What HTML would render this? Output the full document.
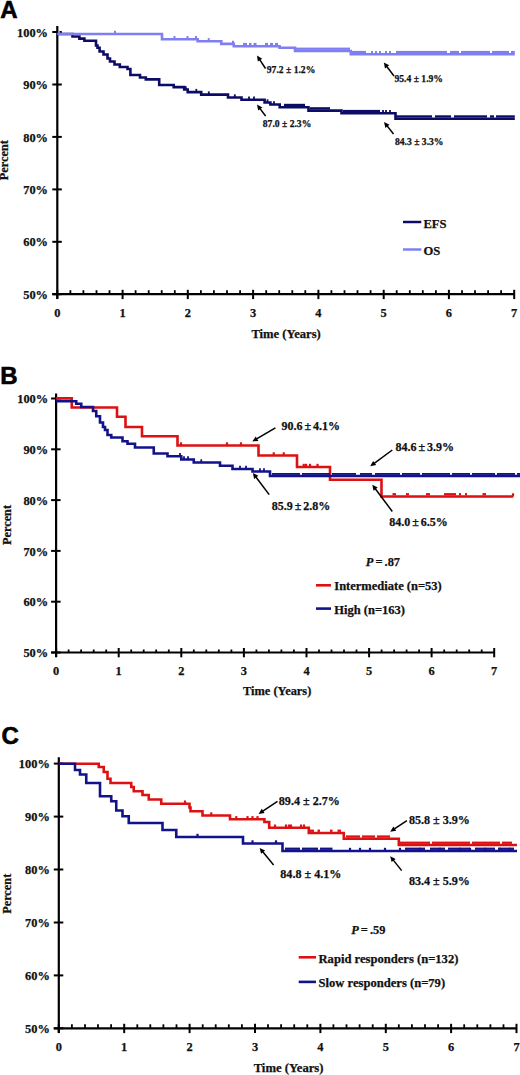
<!DOCTYPE html>
<html><head><meta charset="utf-8"><style>
html,body{margin:0;padding:0;background:#fff;}
body{width:520px;height:1075px;overflow:hidden;}
svg{display:block;}
.t{font-family:"Liberation Serif",serif;font-weight:bold;font-size:12.4px;fill:#111;stroke:#111;stroke-width:0.25px;}
.big{font-family:"Liberation Sans",sans-serif;font-weight:bold;font-size:24px;fill:#000;stroke:#000;stroke-width:0.6px;}
</style></head><body>
<svg width="520" height="1075" viewBox="0 0 520 1075">
<text x="0.2" y="17.5" class="big">A</text>
<line x1="57.3" y1="26.0" x2="57.3" y2="298.8" stroke="#000" stroke-width="2.2"/>
<line x1="52.3" y1="294.2" x2="514.2" y2="294.2" stroke="#000" stroke-width="2.2"/>
<line x1="52.3" y1="32.0" x2="61.8" y2="32.0" stroke="#000" stroke-width="2"/>
<text x="48.0" y="36.6" text-anchor="end" class="t">100%</text>
<line x1="52.3" y1="84.5" x2="61.8" y2="84.5" stroke="#000" stroke-width="2"/>
<text x="48.0" y="89.0" text-anchor="end" class="t">90%</text>
<line x1="52.3" y1="136.9" x2="61.8" y2="136.9" stroke="#000" stroke-width="2"/>
<text x="48.0" y="141.5" text-anchor="end" class="t">80%</text>
<line x1="52.3" y1="189.4" x2="61.8" y2="189.4" stroke="#000" stroke-width="2"/>
<text x="48.0" y="194.0" text-anchor="end" class="t">70%</text>
<line x1="52.3" y1="241.8" x2="61.8" y2="241.8" stroke="#000" stroke-width="2"/>
<text x="48.0" y="246.4" text-anchor="end" class="t">60%</text>
<line x1="52.3" y1="294.2" x2="61.8" y2="294.2" stroke="#000" stroke-width="2"/>
<text x="48.0" y="298.9" text-anchor="end" class="t">50%</text>
<line x1="57.3" y1="289.8" x2="57.3" y2="299.1" stroke="#000" stroke-width="2"/>
<text x="57.3" y="317.2" text-anchor="middle" class="t">0</text>
<line x1="70.4" y1="290.2" x2="70.4" y2="294.2" stroke="#000" stroke-width="1.8"/>
<line x1="83.4" y1="290.2" x2="83.4" y2="294.2" stroke="#000" stroke-width="1.8"/>
<line x1="96.5" y1="290.2" x2="96.5" y2="294.2" stroke="#000" stroke-width="1.8"/>
<line x1="109.5" y1="290.2" x2="109.5" y2="294.2" stroke="#000" stroke-width="1.8"/>
<line x1="122.6" y1="289.8" x2="122.6" y2="299.1" stroke="#000" stroke-width="2"/>
<text x="122.6" y="317.2" text-anchor="middle" class="t">1</text>
<line x1="135.6" y1="290.2" x2="135.6" y2="294.2" stroke="#000" stroke-width="1.8"/>
<line x1="148.7" y1="290.2" x2="148.7" y2="294.2" stroke="#000" stroke-width="1.8"/>
<line x1="161.7" y1="290.2" x2="161.7" y2="294.2" stroke="#000" stroke-width="1.8"/>
<line x1="174.8" y1="290.2" x2="174.8" y2="294.2" stroke="#000" stroke-width="1.8"/>
<line x1="187.8" y1="289.8" x2="187.8" y2="299.1" stroke="#000" stroke-width="2"/>
<text x="187.8" y="317.2" text-anchor="middle" class="t">2</text>
<line x1="200.9" y1="290.2" x2="200.9" y2="294.2" stroke="#000" stroke-width="1.8"/>
<line x1="213.9" y1="290.2" x2="213.9" y2="294.2" stroke="#000" stroke-width="1.8"/>
<line x1="227.0" y1="290.2" x2="227.0" y2="294.2" stroke="#000" stroke-width="1.8"/>
<line x1="240.1" y1="290.2" x2="240.1" y2="294.2" stroke="#000" stroke-width="1.8"/>
<line x1="253.1" y1="289.8" x2="253.1" y2="299.1" stroke="#000" stroke-width="2"/>
<text x="253.1" y="317.2" text-anchor="middle" class="t">3</text>
<line x1="266.2" y1="290.2" x2="266.2" y2="294.2" stroke="#000" stroke-width="1.8"/>
<line x1="279.2" y1="290.2" x2="279.2" y2="294.2" stroke="#000" stroke-width="1.8"/>
<line x1="292.3" y1="290.2" x2="292.3" y2="294.2" stroke="#000" stroke-width="1.8"/>
<line x1="305.3" y1="290.2" x2="305.3" y2="294.2" stroke="#000" stroke-width="1.8"/>
<line x1="318.4" y1="289.8" x2="318.4" y2="299.1" stroke="#000" stroke-width="2"/>
<text x="318.4" y="317.2" text-anchor="middle" class="t">4</text>
<line x1="331.4" y1="290.2" x2="331.4" y2="294.2" stroke="#000" stroke-width="1.8"/>
<line x1="344.5" y1="290.2" x2="344.5" y2="294.2" stroke="#000" stroke-width="1.8"/>
<line x1="357.5" y1="290.2" x2="357.5" y2="294.2" stroke="#000" stroke-width="1.8"/>
<line x1="370.6" y1="290.2" x2="370.6" y2="294.2" stroke="#000" stroke-width="1.8"/>
<line x1="383.7" y1="289.8" x2="383.7" y2="299.1" stroke="#000" stroke-width="2"/>
<text x="383.7" y="317.2" text-anchor="middle" class="t">5</text>
<line x1="396.7" y1="290.2" x2="396.7" y2="294.2" stroke="#000" stroke-width="1.8"/>
<line x1="409.8" y1="290.2" x2="409.8" y2="294.2" stroke="#000" stroke-width="1.8"/>
<line x1="422.8" y1="290.2" x2="422.8" y2="294.2" stroke="#000" stroke-width="1.8"/>
<line x1="435.9" y1="290.2" x2="435.9" y2="294.2" stroke="#000" stroke-width="1.8"/>
<line x1="448.9" y1="289.8" x2="448.9" y2="299.1" stroke="#000" stroke-width="2"/>
<text x="448.9" y="317.2" text-anchor="middle" class="t">6</text>
<line x1="462.0" y1="290.2" x2="462.0" y2="294.2" stroke="#000" stroke-width="1.8"/>
<line x1="475.0" y1="290.2" x2="475.0" y2="294.2" stroke="#000" stroke-width="1.8"/>
<line x1="488.1" y1="290.2" x2="488.1" y2="294.2" stroke="#000" stroke-width="1.8"/>
<line x1="501.1" y1="290.2" x2="501.1" y2="294.2" stroke="#000" stroke-width="1.8"/>
<line x1="514.2" y1="289.8" x2="514.2" y2="299.1" stroke="#000" stroke-width="2"/>
<text x="514.2" y="317.2" text-anchor="middle" class="t">7</text>
<text x="286.1" y="337.8" text-anchor="middle" class="t" style="font-size:12.6px">Time (Years)</text>
<text transform="translate(8.1,160.2) rotate(-90)" text-anchor="middle" class="t" style="font-size:12.3px">Percent</text>
<path d="M57.3,34H72.5V36.5H79.4V38.6H84.4V40.8H96V45.5H97.5V47.7H99.6V51.5H103.5V54.5H107.5V58.5H110V61.5H114.5V64.5H119.8V67H127.5V69H130.4V75H140V77.5H145.8V79.4H159.2V85H173.7V87.1H184.2V89.5H187.7V92.1H201.2V94.6H228V97.5H241.5V99.8H264.6V102.5H270.4V104.5H279.7V107.2H308.5V110.6H341.5V113.3H395.5V118.7H514.8" fill="none" stroke="#0c0c66" stroke-width="2.6" stroke-linejoin="miter" stroke-linecap="butt"/>
<path d="M57.3,34H162V39.2H197.7V41.3H221.3V43.9H233.8V46.3H279.6V47.8H295V51H350.8V54.3H514.8" fill="none" stroke="#7f7ff2" stroke-width="2.6" stroke-linejoin="miter" stroke-linecap="butt"/>
<line x1="59" y1="34" x2="59" y2="30.8" stroke="#7f7ff2" stroke-width="2"/>
<line x1="115" y1="34" x2="115" y2="30.8" stroke="#7f7ff2" stroke-width="2"/>
<line x1="174.5" y1="39.2" x2="174.5" y2="36.0" stroke="#7f7ff2" stroke-width="2"/>
<line x1="187.5" y1="39.2" x2="187.5" y2="36.0" stroke="#7f7ff2" stroke-width="2"/>
<line x1="196" y1="39.2" x2="196" y2="36.0" stroke="#7f7ff2" stroke-width="2"/>
<line x1="208.7" y1="41.3" x2="208.7" y2="38.1" stroke="#7f7ff2" stroke-width="2"/>
<line x1="233" y1="43.9" x2="233" y2="40.7" stroke="#7f7ff2" stroke-width="2"/>
<line x1="372" y1="54.3" x2="372" y2="51.1" stroke="#7f7ff2" stroke-width="2"/>
<line x1="376" y1="54.3" x2="376" y2="51.1" stroke="#7f7ff2" stroke-width="2"/>
<line x1="380" y1="54.3" x2="380" y2="51.1" stroke="#7f7ff2" stroke-width="2"/>
<line x1="386" y1="54.3" x2="386" y2="51.1" stroke="#7f7ff2" stroke-width="2"/>
<line x1="390" y1="54.3" x2="390" y2="51.1" stroke="#7f7ff2" stroke-width="2"/>
<rect x="243" y="42.9" width="4.0" height="2.3" fill="#7f7ff2"/>
<rect x="249" y="42.9" width="2.5" height="2.3" fill="#7f7ff2"/>
<rect x="253.5" y="42.9" width="3.0" height="2.3" fill="#7f7ff2"/>
<rect x="265" y="42.9" width="3.0" height="2.3" fill="#7f7ff2"/>
<rect x="270" y="42.9" width="3.0" height="2.3" fill="#7f7ff2"/>
<rect x="275" y="42.9" width="3.0" height="2.3" fill="#7f7ff2"/>
<rect x="296" y="47.6" width="54.0" height="2.3" fill="#7f7ff2"/>
<rect x="351" y="50.9" width="15.0" height="2.3" fill="#7f7ff2"/>
<rect x="396" y="50.9" width="51.0" height="2.3" fill="#7f7ff2"/>
<rect x="450" y="50.9" width="9.0" height="2.3" fill="#7f7ff2"/>
<rect x="461" y="50.9" width="29.0" height="2.3" fill="#7f7ff2"/>
<rect x="492" y="50.9" width="17.0" height="2.3" fill="#7f7ff2"/>
<rect x="511" y="50.9" width="3.8" height="2.3" fill="#7f7ff2"/>
<line x1="185.8" y1="89.5" x2="185.8" y2="86.3" stroke="#0c0c66" stroke-width="1.8"/>
<line x1="196.3" y1="92.1" x2="196.3" y2="88.9" stroke="#0c0c66" stroke-width="1.8"/>
<line x1="208.8" y1="94.6" x2="208.8" y2="91.4" stroke="#0c0c66" stroke-width="1.8"/>
<line x1="234.8" y1="97.5" x2="234.8" y2="94.3" stroke="#0c0c66" stroke-width="1.8"/>
<line x1="249" y1="99.8" x2="249" y2="96.6" stroke="#0c0c66" stroke-width="1.8"/>
<line x1="254" y1="99.8" x2="254" y2="96.6" stroke="#0c0c66" stroke-width="1.8"/>
<line x1="267.5" y1="102.5" x2="267.5" y2="99.3" stroke="#0c0c66" stroke-width="1.8"/>
<line x1="274" y1="104.5" x2="274" y2="101.3" stroke="#0c0c66" stroke-width="1.8"/>
<line x1="383" y1="113.3" x2="383" y2="110.1" stroke="#0c0c66" stroke-width="1.8"/>
<line x1="386" y1="113.3" x2="386" y2="110.1" stroke="#0c0c66" stroke-width="1.8"/>
<line x1="390" y1="113.3" x2="390" y2="110.1" stroke="#0c0c66" stroke-width="1.8"/>
<rect x="284" y="103.8" width="21.0" height="2.3" fill="#0c0c66"/>
<rect x="310" y="107.2" width="20.0" height="2.3" fill="#0c0c66"/>
<rect x="343" y="109.9" width="37.0" height="2.3" fill="#0c0c66"/>
<rect x="396" y="115.3" width="36.0" height="2.3" fill="#0c0c66"/>
<rect x="435" y="115.3" width="16.0" height="2.3" fill="#0c0c66"/>
<rect x="454" y="115.3" width="33.0" height="2.3" fill="#0c0c66"/>
<rect x="490" y="115.3" width="4.0" height="2.3" fill="#0c0c66"/>
<rect x="496" y="115.3" width="18.8" height="2.3" fill="#0c0c66"/>
<line x1="265.5" y1="68.5" x2="259.7" y2="59.7" stroke="#000" stroke-width="1.5"/>
<path d="M257,55.5L262.2,58.7L257.8,61.5Z" fill="#000"/>
<text x="266.8" y="72.8" class="t" style="font-size:9.6px">97.2 ± 1.2%</text>
<line x1="394" y1="76" x2="386.8" y2="66.5" stroke="#000" stroke-width="1.5"/>
<path d="M383.8,62.5L389.2,65.3L385.0,68.5Z" fill="#000"/>
<text x="394.5" y="82" class="t" style="font-size:9.6px">95.4 ± 1.9%</text>
<line x1="265.6" y1="116" x2="260.0" y2="108.6" stroke="#000" stroke-width="1.5"/>
<path d="M257,104.6L262.4,107.4L258.2,110.6Z" fill="#000"/>
<text x="262.8" y="126.6" class="t" style="font-size:9.6px">87.0 ± 2.3%</text>
<line x1="393.5" y1="134" x2="387.1" y2="125.9" stroke="#000" stroke-width="1.5"/>
<path d="M384,122L389.5,124.7L385.4,127.9Z" fill="#000"/>
<text x="395" y="145" class="t" style="font-size:9.6px">84.3 ± 3.3%</text>
<line x1="403" y1="222" x2="421.3" y2="222" stroke="#0c0c66" stroke-width="2.5"/>
<text x="423.4" y="227.6" class="t" style="font-size:12.6px">EFS</text>
<line x1="403" y1="249.5" x2="421.3" y2="249.5" stroke="#7f7ff2" stroke-width="2.5"/>
<text x="423.4" y="254.8" class="t" style="font-size:12.6px">OS</text>
<text x="0.3" y="384.3" class="big">B</text>
<line x1="56.1" y1="393.5" x2="56.1" y2="657.0" stroke="#000" stroke-width="2.2"/>
<line x1="51.1" y1="652.5" x2="494.2" y2="652.5" stroke="#000" stroke-width="2.2"/>
<line x1="51.1" y1="398.5" x2="60.6" y2="398.5" stroke="#000" stroke-width="2"/>
<text x="48.2" y="403.1" text-anchor="end" class="t">100%</text>
<line x1="51.1" y1="449.3" x2="60.6" y2="449.3" stroke="#000" stroke-width="2"/>
<text x="48.2" y="453.9" text-anchor="end" class="t">90%</text>
<line x1="51.1" y1="500.1" x2="60.6" y2="500.1" stroke="#000" stroke-width="2"/>
<text x="48.2" y="504.7" text-anchor="end" class="t">80%</text>
<line x1="51.1" y1="550.9" x2="60.6" y2="550.9" stroke="#000" stroke-width="2"/>
<text x="48.2" y="555.5" text-anchor="end" class="t">70%</text>
<line x1="51.1" y1="601.7" x2="60.6" y2="601.7" stroke="#000" stroke-width="2"/>
<text x="48.2" y="606.3" text-anchor="end" class="t">60%</text>
<line x1="51.1" y1="652.5" x2="60.6" y2="652.5" stroke="#000" stroke-width="2"/>
<text x="48.2" y="657.1" text-anchor="end" class="t">50%</text>
<line x1="56.1" y1="648.0" x2="56.1" y2="657.3" stroke="#000" stroke-width="2"/>
<text x="56.1" y="674.5" text-anchor="middle" class="t">0</text>
<line x1="68.6" y1="649.5" x2="68.6" y2="652.5" stroke="#000" stroke-width="1.8"/>
<line x1="81.1" y1="649.5" x2="81.1" y2="652.5" stroke="#000" stroke-width="1.8"/>
<line x1="93.7" y1="649.5" x2="93.7" y2="652.5" stroke="#000" stroke-width="1.8"/>
<line x1="106.2" y1="649.5" x2="106.2" y2="652.5" stroke="#000" stroke-width="1.8"/>
<line x1="118.7" y1="648.0" x2="118.7" y2="657.3" stroke="#000" stroke-width="2"/>
<text x="118.7" y="674.5" text-anchor="middle" class="t">1</text>
<line x1="131.2" y1="649.5" x2="131.2" y2="652.5" stroke="#000" stroke-width="1.8"/>
<line x1="143.7" y1="649.5" x2="143.7" y2="652.5" stroke="#000" stroke-width="1.8"/>
<line x1="156.2" y1="649.5" x2="156.2" y2="652.5" stroke="#000" stroke-width="1.8"/>
<line x1="168.8" y1="649.5" x2="168.8" y2="652.5" stroke="#000" stroke-width="1.8"/>
<line x1="181.3" y1="648.0" x2="181.3" y2="657.3" stroke="#000" stroke-width="2"/>
<text x="181.3" y="674.5" text-anchor="middle" class="t">2</text>
<line x1="193.8" y1="649.5" x2="193.8" y2="652.5" stroke="#000" stroke-width="1.8"/>
<line x1="206.3" y1="649.5" x2="206.3" y2="652.5" stroke="#000" stroke-width="1.8"/>
<line x1="218.8" y1="649.5" x2="218.8" y2="652.5" stroke="#000" stroke-width="1.8"/>
<line x1="231.4" y1="649.5" x2="231.4" y2="652.5" stroke="#000" stroke-width="1.8"/>
<line x1="243.9" y1="648.0" x2="243.9" y2="657.3" stroke="#000" stroke-width="2"/>
<text x="243.9" y="674.5" text-anchor="middle" class="t">3</text>
<line x1="256.4" y1="649.5" x2="256.4" y2="652.5" stroke="#000" stroke-width="1.8"/>
<line x1="268.9" y1="649.5" x2="268.9" y2="652.5" stroke="#000" stroke-width="1.8"/>
<line x1="281.4" y1="649.5" x2="281.4" y2="652.5" stroke="#000" stroke-width="1.8"/>
<line x1="293.9" y1="649.5" x2="293.9" y2="652.5" stroke="#000" stroke-width="1.8"/>
<line x1="306.5" y1="648.0" x2="306.5" y2="657.3" stroke="#000" stroke-width="2"/>
<text x="306.5" y="674.5" text-anchor="middle" class="t">4</text>
<line x1="319.0" y1="649.5" x2="319.0" y2="652.5" stroke="#000" stroke-width="1.8"/>
<line x1="331.5" y1="649.5" x2="331.5" y2="652.5" stroke="#000" stroke-width="1.8"/>
<line x1="344.0" y1="649.5" x2="344.0" y2="652.5" stroke="#000" stroke-width="1.8"/>
<line x1="356.5" y1="649.5" x2="356.5" y2="652.5" stroke="#000" stroke-width="1.8"/>
<line x1="369.1" y1="648.0" x2="369.1" y2="657.3" stroke="#000" stroke-width="2"/>
<text x="369.1" y="674.5" text-anchor="middle" class="t">5</text>
<line x1="381.6" y1="649.5" x2="381.6" y2="652.5" stroke="#000" stroke-width="1.8"/>
<line x1="394.1" y1="649.5" x2="394.1" y2="652.5" stroke="#000" stroke-width="1.8"/>
<line x1="406.6" y1="649.5" x2="406.6" y2="652.5" stroke="#000" stroke-width="1.8"/>
<line x1="419.1" y1="649.5" x2="419.1" y2="652.5" stroke="#000" stroke-width="1.8"/>
<line x1="431.6" y1="648.0" x2="431.6" y2="657.3" stroke="#000" stroke-width="2"/>
<text x="431.6" y="674.5" text-anchor="middle" class="t">6</text>
<line x1="444.2" y1="649.5" x2="444.2" y2="652.5" stroke="#000" stroke-width="1.8"/>
<line x1="456.7" y1="649.5" x2="456.7" y2="652.5" stroke="#000" stroke-width="1.8"/>
<line x1="469.2" y1="649.5" x2="469.2" y2="652.5" stroke="#000" stroke-width="1.8"/>
<line x1="481.7" y1="649.5" x2="481.7" y2="652.5" stroke="#000" stroke-width="1.8"/>
<line x1="494.2" y1="648.0" x2="494.2" y2="657.3" stroke="#000" stroke-width="2"/>
<text x="494.2" y="674.5" text-anchor="middle" class="t">7</text>
<text x="277.2" y="695.0" text-anchor="middle" class="t" style="font-size:12.4px">Time (Years)</text>
<text transform="translate(10.8,525.0) rotate(-90)" text-anchor="middle" class="t" style="font-size:12.3px">Percent</text>
<path d="M56.1,398.4H71.75V407.5H117V416.75H125.5V427H142V436.25H177.5V445.5H258.5V455.5H297V467H330V479.8H381.5V496.5H513.2" fill="none" stroke="#dd1111" stroke-width="2.6" stroke-linejoin="miter" stroke-linecap="butt"/>
<line x1="181" y1="445.5" x2="181" y2="442.3" stroke="#dd1111" stroke-width="2.2"/>
<line x1="227" y1="445.5" x2="227" y2="442.3" stroke="#dd1111" stroke-width="2.2"/>
<line x1="241" y1="445.5" x2="241" y2="442.3" stroke="#dd1111" stroke-width="2.2"/>
<line x1="273.75" y1="455.5" x2="273.75" y2="452.3" stroke="#dd1111" stroke-width="2.2"/>
<line x1="283.75" y1="455.5" x2="283.75" y2="452.3" stroke="#dd1111" stroke-width="2.2"/>
<line x1="303.75" y1="467" x2="303.75" y2="463.8" stroke="#dd1111" stroke-width="2.2"/>
<line x1="306" y1="467" x2="306" y2="463.8" stroke="#dd1111" stroke-width="2.2"/>
<line x1="310" y1="467" x2="310" y2="463.8" stroke="#dd1111" stroke-width="2.2"/>
<line x1="317.5" y1="467" x2="317.5" y2="463.8" stroke="#dd1111" stroke-width="2.2"/>
<line x1="513" y1="496.5" x2="513" y2="493.3" stroke="#dd1111" stroke-width="2.2"/>
<rect x="392.5" y="493.1" width="3.5" height="2.3" fill="#dd1111"/>
<rect x="406" y="493.1" width="3.0" height="2.3" fill="#dd1111"/>
<rect x="426" y="493.1" width="4.0" height="2.3" fill="#dd1111"/>
<rect x="444" y="493.1" width="12.0" height="2.3" fill="#dd1111"/>
<rect x="459" y="493.1" width="2.0" height="2.3" fill="#dd1111"/>
<rect x="465" y="493.1" width="2.0" height="2.3" fill="#dd1111"/>
<rect x="482.5" y="493.1" width="3.5" height="2.3" fill="#dd1111"/>
<path d="M56.1,401.3H76.25V403.75H81.25V407H93V411H96.25V416.25H100V422.5H103V427H105V430H107.5V435H111.25V437.5H122.5V441.25H127.5V443.75H135V447.5H153.75V453.5H167.5V456.3H181.25V459.5H193.75V462.5H220V465.8H232.5V469H252.5V471.5H270V476H520" fill="none" stroke="#12128a" stroke-width="2.6" stroke-linejoin="miter" stroke-linecap="butt"/>
<line x1="180" y1="456.3" x2="180" y2="453.1" stroke="#12128a" stroke-width="1.8"/>
<line x1="184" y1="459.5" x2="184" y2="456.3" stroke="#12128a" stroke-width="1.8"/>
<line x1="188" y1="459.5" x2="188" y2="456.3" stroke="#12128a" stroke-width="1.8"/>
<line x1="201.25" y1="462.5" x2="201.25" y2="459.3" stroke="#12128a" stroke-width="1.8"/>
<line x1="240" y1="469" x2="240" y2="465.8" stroke="#12128a" stroke-width="1.8"/>
<line x1="246" y1="469" x2="246" y2="465.8" stroke="#12128a" stroke-width="1.8"/>
<line x1="260" y1="471.5" x2="260" y2="468.3" stroke="#12128a" stroke-width="1.8"/>
<line x1="264" y1="471.5" x2="264" y2="468.3" stroke="#12128a" stroke-width="1.8"/>
<rect x="272" y="473.0" width="28.0" height="1.9" fill="#12128a"/>
<rect x="302" y="473.0" width="28.0" height="1.9" fill="#12128a"/>
<rect x="332" y="473.0" width="24.0" height="1.9" fill="#12128a"/>
<rect x="360" y="473.0" width="12.0" height="1.9" fill="#12128a"/>
<rect x="375" y="473.0" width="25.0" height="1.9" fill="#12128a"/>
<rect x="402" y="473.0" width="18.0" height="1.9" fill="#12128a"/>
<rect x="422" y="473.0" width="28.0" height="1.9" fill="#12128a"/>
<rect x="452" y="473.0" width="18.0" height="1.9" fill="#12128a"/>
<rect x="472" y="473.0" width="23.0" height="1.9" fill="#12128a"/>
<rect x="497" y="473.0" width="18.0" height="1.9" fill="#12128a"/>
<rect x="517" y="473.0" width="3.0" height="1.9" fill="#12128a"/>
<line x1="275.4" y1="427.8" x2="256.6" y2="438.9" stroke="#000" stroke-width="1.5"/>
<path d="M252.3,441.4L255.7,436.4L258.4,440.9Z" fill="#000"/>
<text x="281.5" y="429.6" class="t" style="font-size:12px">90.6 ± 4.1%</text>
<line x1="269.2" y1="494.6" x2="255.9" y2="477.0" stroke="#000" stroke-width="1.5"/>
<path d="M252.9,473L258.3,475.8L254.1,479.0Z" fill="#000"/>
<text x="271.7" y="510.2" class="t" style="font-size:12px">85.9 ± 2.8%</text>
<line x1="392.3" y1="450" x2="374.2" y2="463.3" stroke="#000" stroke-width="1.5"/>
<path d="M370.2,466.3L373.1,460.9L376.2,465.1Z" fill="#000"/>
<text x="395.4" y="451.2" class="t" style="font-size:12px">84.6 ± 3.9%</text>
<line x1="392.3" y1="511.5" x2="375.3" y2="488.8" stroke="#000" stroke-width="1.5"/>
<path d="M372.3,484.8L377.7,487.6L373.5,490.8Z" fill="#000"/>
<text x="389.2" y="525.9" class="t" style="font-size:12px">84.0 ± 6.5%</text>
<text x="365.8" y="566.3" class="t"><tspan style="font-style:italic">P</tspan> = .87</text>
<line x1="316" y1="585.3" x2="331" y2="585.3" stroke="#dd1111" stroke-width="2.6"/>
<text x="334.3" y="589.8" class="t" style="font-size:12.5px">Intermediate (n=53)</text>
<line x1="316" y1="608.6" x2="331" y2="608.6" stroke="#12128a" stroke-width="2.6"/>
<text x="334.3" y="613.5" class="t" style="font-size:12.5px">High (n=163)</text>
<text x="1.6" y="743.5" class="big">C</text>
<line x1="58.8" y1="757.3" x2="58.8" y2="1032.8" stroke="#000" stroke-width="2.2"/>
<line x1="53.8" y1="1028.3" x2="516.5" y2="1028.3" stroke="#000" stroke-width="2.2"/>
<line x1="53.8" y1="763.6" x2="63.3" y2="763.6" stroke="#000" stroke-width="2"/>
<text x="49.8" y="768.2" text-anchor="end" class="t">100%</text>
<line x1="53.8" y1="816.6" x2="63.3" y2="816.6" stroke="#000" stroke-width="2"/>
<text x="49.8" y="821.2" text-anchor="end" class="t">90%</text>
<line x1="53.8" y1="869.5" x2="63.3" y2="869.5" stroke="#000" stroke-width="2"/>
<text x="49.8" y="874.1" text-anchor="end" class="t">80%</text>
<line x1="53.8" y1="922.5" x2="63.3" y2="922.5" stroke="#000" stroke-width="2"/>
<text x="49.8" y="927.1" text-anchor="end" class="t">70%</text>
<line x1="53.8" y1="975.4" x2="63.3" y2="975.4" stroke="#000" stroke-width="2"/>
<text x="49.8" y="980.0" text-anchor="end" class="t">60%</text>
<line x1="53.8" y1="1028.3" x2="63.3" y2="1028.3" stroke="#000" stroke-width="2"/>
<text x="49.8" y="1032.9" text-anchor="end" class="t">50%</text>
<line x1="58.8" y1="1023.8" x2="58.8" y2="1033.1" stroke="#000" stroke-width="2"/>
<text x="58.8" y="1051.3" text-anchor="middle" class="t">0</text>
<line x1="71.9" y1="1024.3" x2="71.9" y2="1028.3" stroke="#000" stroke-width="1.8"/>
<line x1="85.0" y1="1024.3" x2="85.0" y2="1028.3" stroke="#000" stroke-width="1.8"/>
<line x1="98.0" y1="1024.3" x2="98.0" y2="1028.3" stroke="#000" stroke-width="1.8"/>
<line x1="111.1" y1="1024.3" x2="111.1" y2="1028.3" stroke="#000" stroke-width="1.8"/>
<line x1="124.2" y1="1023.8" x2="124.2" y2="1033.1" stroke="#000" stroke-width="2"/>
<text x="124.2" y="1051.3" text-anchor="middle" class="t">1</text>
<line x1="137.3" y1="1024.3" x2="137.3" y2="1028.3" stroke="#000" stroke-width="1.8"/>
<line x1="150.3" y1="1024.3" x2="150.3" y2="1028.3" stroke="#000" stroke-width="1.8"/>
<line x1="163.4" y1="1024.3" x2="163.4" y2="1028.3" stroke="#000" stroke-width="1.8"/>
<line x1="176.5" y1="1024.3" x2="176.5" y2="1028.3" stroke="#000" stroke-width="1.8"/>
<line x1="189.6" y1="1023.8" x2="189.6" y2="1033.1" stroke="#000" stroke-width="2"/>
<text x="189.6" y="1051.3" text-anchor="middle" class="t">2</text>
<line x1="202.7" y1="1024.3" x2="202.7" y2="1028.3" stroke="#000" stroke-width="1.8"/>
<line x1="215.7" y1="1024.3" x2="215.7" y2="1028.3" stroke="#000" stroke-width="1.8"/>
<line x1="228.8" y1="1024.3" x2="228.8" y2="1028.3" stroke="#000" stroke-width="1.8"/>
<line x1="241.9" y1="1024.3" x2="241.9" y2="1028.3" stroke="#000" stroke-width="1.8"/>
<line x1="255.0" y1="1023.8" x2="255.0" y2="1033.1" stroke="#000" stroke-width="2"/>
<text x="255.0" y="1051.3" text-anchor="middle" class="t">3</text>
<line x1="268.0" y1="1024.3" x2="268.0" y2="1028.3" stroke="#000" stroke-width="1.8"/>
<line x1="281.1" y1="1024.3" x2="281.1" y2="1028.3" stroke="#000" stroke-width="1.8"/>
<line x1="294.2" y1="1024.3" x2="294.2" y2="1028.3" stroke="#000" stroke-width="1.8"/>
<line x1="307.3" y1="1024.3" x2="307.3" y2="1028.3" stroke="#000" stroke-width="1.8"/>
<line x1="320.4" y1="1023.8" x2="320.4" y2="1033.1" stroke="#000" stroke-width="2"/>
<text x="320.4" y="1051.3" text-anchor="middle" class="t">4</text>
<line x1="333.4" y1="1024.3" x2="333.4" y2="1028.3" stroke="#000" stroke-width="1.8"/>
<line x1="346.5" y1="1024.3" x2="346.5" y2="1028.3" stroke="#000" stroke-width="1.8"/>
<line x1="359.6" y1="1024.3" x2="359.6" y2="1028.3" stroke="#000" stroke-width="1.8"/>
<line x1="372.7" y1="1024.3" x2="372.7" y2="1028.3" stroke="#000" stroke-width="1.8"/>
<line x1="385.8" y1="1023.8" x2="385.8" y2="1033.1" stroke="#000" stroke-width="2"/>
<text x="385.8" y="1051.3" text-anchor="middle" class="t">5</text>
<line x1="398.8" y1="1024.3" x2="398.8" y2="1028.3" stroke="#000" stroke-width="1.8"/>
<line x1="411.9" y1="1024.3" x2="411.9" y2="1028.3" stroke="#000" stroke-width="1.8"/>
<line x1="425.0" y1="1024.3" x2="425.0" y2="1028.3" stroke="#000" stroke-width="1.8"/>
<line x1="438.1" y1="1024.3" x2="438.1" y2="1028.3" stroke="#000" stroke-width="1.8"/>
<line x1="451.1" y1="1023.8" x2="451.1" y2="1033.1" stroke="#000" stroke-width="2"/>
<text x="451.1" y="1051.3" text-anchor="middle" class="t">6</text>
<line x1="464.2" y1="1024.3" x2="464.2" y2="1028.3" stroke="#000" stroke-width="1.8"/>
<line x1="477.3" y1="1024.3" x2="477.3" y2="1028.3" stroke="#000" stroke-width="1.8"/>
<line x1="490.4" y1="1024.3" x2="490.4" y2="1028.3" stroke="#000" stroke-width="1.8"/>
<line x1="503.5" y1="1024.3" x2="503.5" y2="1028.3" stroke="#000" stroke-width="1.8"/>
<line x1="516.5" y1="1023.8" x2="516.5" y2="1033.1" stroke="#000" stroke-width="2"/>
<text x="516.5" y="1051.3" text-anchor="middle" class="t">7</text>
<text x="288.6" y="1072.2" text-anchor="middle" class="t" style="font-size:12.7px">Time (Years)</text>
<text transform="translate(11.3,893.8) rotate(-90)" text-anchor="middle" class="t" style="font-size:12.3px">Percent</text>
<path d="M58.8,763.75H98.75V767H103.75V772H107.5V778.75H110.5V783H131.25V787H133.75V791.25H142.5V795H148.75V799.5H161.25V803.75H189.5V807.5H190.5V811.25H202.5V815.5H230V819.3H264.4V822H269.2V827.7H308.8V833H343.8V838.8H398.8V845H517" fill="none" stroke="#dd1111" stroke-width="2.6" stroke-linejoin="miter" stroke-linecap="butt"/>
<line x1="185" y1="803.75" x2="185" y2="800.5" stroke="#dd1111" stroke-width="2.2"/>
<line x1="211.25" y1="815.5" x2="211.25" y2="812.3" stroke="#dd1111" stroke-width="2.2"/>
<line x1="236.25" y1="819.3" x2="236.25" y2="816.1" stroke="#dd1111" stroke-width="2.2"/>
<line x1="247.5" y1="819.3" x2="247.5" y2="816.1" stroke="#dd1111" stroke-width="2.2"/>
<line x1="252.5" y1="819.3" x2="252.5" y2="816.1" stroke="#dd1111" stroke-width="2.2"/>
<line x1="257.5" y1="819.3" x2="257.5" y2="816.1" stroke="#dd1111" stroke-width="2.2"/>
<line x1="275" y1="827.7" x2="275" y2="824.5" stroke="#dd1111" stroke-width="2.2"/>
<line x1="286" y1="827.7" x2="286" y2="824.5" stroke="#dd1111" stroke-width="2.2"/>
<line x1="289" y1="827.7" x2="289" y2="824.5" stroke="#dd1111" stroke-width="2.2"/>
<line x1="291" y1="827.7" x2="291" y2="824.5" stroke="#dd1111" stroke-width="2.2"/>
<line x1="301" y1="827.7" x2="301" y2="824.5" stroke="#dd1111" stroke-width="2.2"/>
<line x1="304" y1="827.7" x2="304" y2="824.5" stroke="#dd1111" stroke-width="2.2"/>
<rect x="310" y="829.6" width="4.0" height="2.3" fill="#dd1111"/>
<rect x="317.5" y="829.6" width="2.5" height="2.3" fill="#dd1111"/>
<rect x="330" y="829.6" width="2.5" height="2.3" fill="#dd1111"/>
<rect x="337.5" y="829.6" width="3.5" height="2.3" fill="#dd1111"/>
<rect x="346" y="835.4" width="14.0" height="2.3" fill="#dd1111"/>
<rect x="362" y="835.4" width="13.0" height="2.3" fill="#dd1111"/>
<rect x="377" y="835.4" width="13.0" height="2.3" fill="#dd1111"/>
<rect x="400" y="841.6" width="30.0" height="2.3" fill="#dd1111"/>
<rect x="432" y="841.6" width="38.0" height="2.3" fill="#dd1111"/>
<rect x="472" y="841.6" width="28.0" height="2.3" fill="#dd1111"/>
<rect x="502" y="841.6" width="10.0" height="2.3" fill="#dd1111"/>
<path d="M58.8,763.75H75V770H80V774.5H86.25V783H100V796.25H111.25V801.25H116.25V810.5H122.5V816.25H128.75V823H162.5V830H176.25V837H243V843.5H282.5V851H517" fill="none" stroke="#12128a" stroke-width="2.6" stroke-linejoin="miter" stroke-linecap="butt"/>
<line x1="197.5" y1="837" x2="197.5" y2="833.8" stroke="#12128a" stroke-width="2.2"/>
<line x1="252.5" y1="843.5" x2="252.5" y2="840.3" stroke="#12128a" stroke-width="2.2"/>
<line x1="276" y1="843.5" x2="276" y2="840.3" stroke="#12128a" stroke-width="2.2"/>
<line x1="350" y1="851" x2="350" y2="847.8" stroke="#12128a" stroke-width="2.2"/>
<line x1="360" y1="851" x2="360" y2="847.8" stroke="#12128a" stroke-width="2.2"/>
<line x1="370" y1="851" x2="370" y2="847.8" stroke="#12128a" stroke-width="2.2"/>
<line x1="385" y1="851" x2="385" y2="847.8" stroke="#12128a" stroke-width="2.2"/>
<line x1="400" y1="851" x2="400" y2="847.8" stroke="#12128a" stroke-width="2.2"/>
<line x1="420" y1="851" x2="420" y2="847.8" stroke="#12128a" stroke-width="2.2"/>
<line x1="440" y1="851" x2="440" y2="847.8" stroke="#12128a" stroke-width="2.2"/>
<line x1="460" y1="851" x2="460" y2="847.8" stroke="#12128a" stroke-width="2.2"/>
<line x1="470" y1="851" x2="470" y2="847.8" stroke="#12128a" stroke-width="2.2"/>
<line x1="485" y1="851" x2="485" y2="847.8" stroke="#12128a" stroke-width="2.2"/>
<line x1="500" y1="851" x2="500" y2="847.8" stroke="#12128a" stroke-width="2.2"/>
<line x1="510" y1="851" x2="510" y2="847.8" stroke="#12128a" stroke-width="2.2"/>
<rect x="285" y="847.6" width="15.0" height="2.3" fill="#12128a"/>
<rect x="302" y="847.6" width="16.0" height="2.3" fill="#12128a"/>
<rect x="320" y="847.6" width="12.5" height="2.3" fill="#12128a"/>
<rect x="405" y="847.6" width="20.0" height="2.3" fill="#12128a"/>
<rect x="430" y="847.6" width="15.0" height="2.3" fill="#12128a"/>
<rect x="448" y="847.6" width="22.0" height="2.3" fill="#12128a"/>
<rect x="475" y="847.6" width="20.0" height="2.3" fill="#12128a"/>
<rect x="498" y="847.6" width="16.0" height="2.3" fill="#12128a"/>
<line x1="277.5" y1="801.4" x2="262.8" y2="811.2" stroke="#000" stroke-width="1.5"/>
<path d="M258.6,814L261.7,808.8L264.6,813.1Z" fill="#000"/>
<text x="278.8" y="804.8" class="t" style="font-size:12.1px">89.4 ± 2.7%</text>
<line x1="273.6" y1="865" x2="262.8" y2="851.8" stroke="#000" stroke-width="1.5"/>
<path d="M259.6,847.9L265.1,850.5L261.1,853.8Z" fill="#000"/>
<text x="280.3" y="878" class="t" style="font-size:12.1px">84.8 ± 4.1%</text>
<line x1="406.9" y1="820.7" x2="394.4" y2="828.9" stroke="#000" stroke-width="1.5"/>
<path d="M390.2,831.7L393.4,826.5L396.2,830.8Z" fill="#000"/>
<text x="408.9" y="823.8" class="t" style="font-size:12.1px">85.8 ± 3.9%</text>
<line x1="401.7" y1="870.6" x2="393.3" y2="860.1" stroke="#000" stroke-width="1.5"/>
<path d="M390.2,856.2L395.7,858.9L391.6,862.1Z" fill="#000"/>
<text x="408.9" y="884.9" class="t" style="font-size:12.1px">83.4 ± 5.9%</text>
<text x="351.2" y="934.2" class="t"><tspan style="font-style:italic">P</tspan> = .59</text>
<line x1="298.7" y1="957.3" x2="316" y2="957.3" stroke="#dd1111" stroke-width="2.6"/>
<text x="318.5" y="963" class="t" style="font-size:12.6px">Rapid responders (n=132)</text>
<line x1="298.7" y1="981.9" x2="316" y2="981.9" stroke="#12128a" stroke-width="2.6"/>
<text x="318.5" y="986.5" class="t" style="font-size:12.6px">Slow responders (n=79)</text>
</svg>
</body></html>
